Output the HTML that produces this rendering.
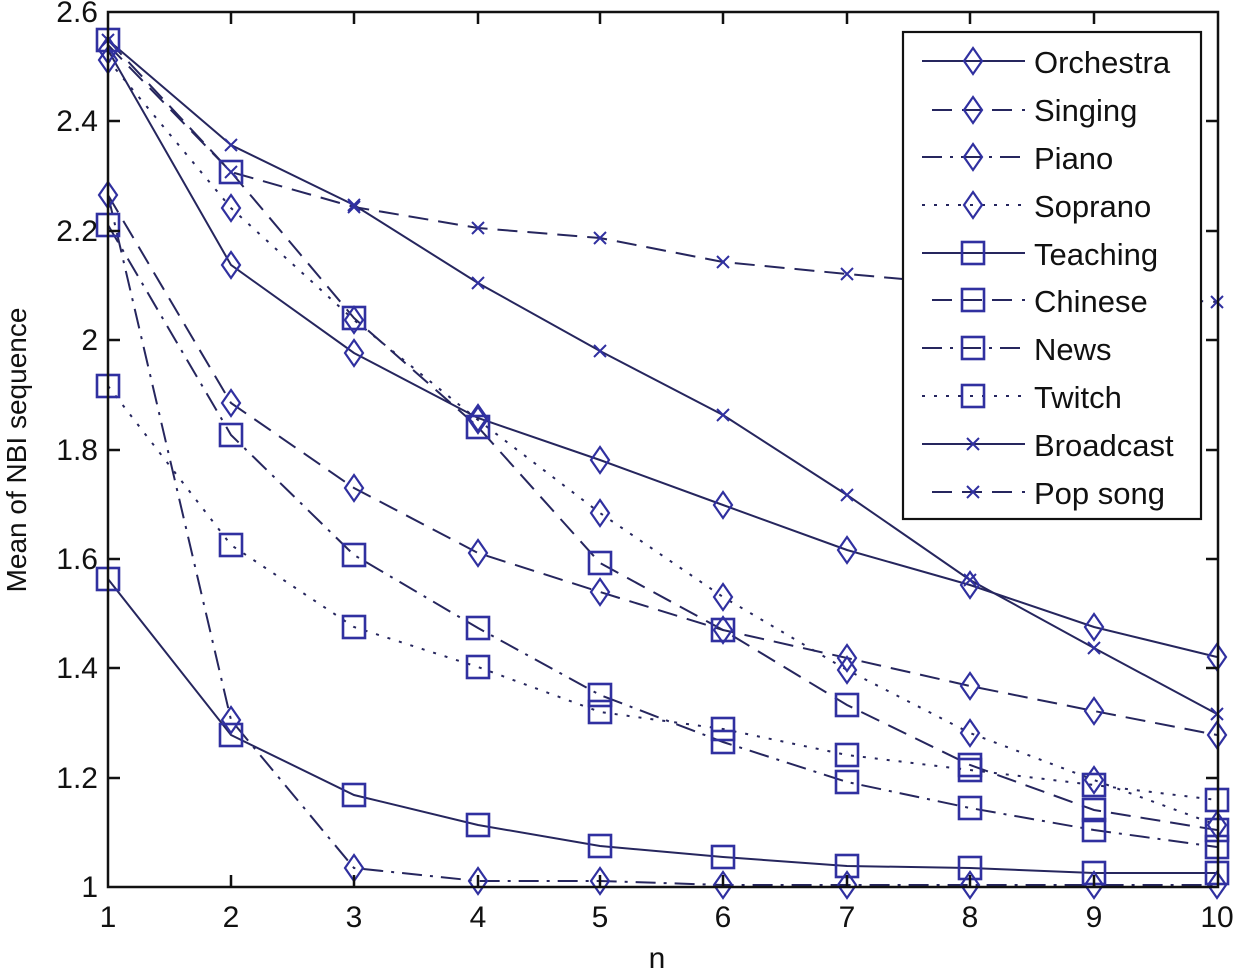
<!DOCTYPE html>
<html><head><meta charset="utf-8"><style>
html,body{margin:0;padding:0;background:#fff;width:1234px;height:971px;overflow:hidden}
svg{display:block}
text{font-family:"Liberation Sans",sans-serif;fill:#111}
</style></head><body>
<svg width="1234" height="971" viewBox="0 0 1234 971" xmlns="http://www.w3.org/2000/svg">
<defs>
<g id="dm"><path d="M0,-13 L9,0 L0,13 L-9,0 Z" fill="none" stroke="#3030a0" stroke-width="2.2"/></g>
<g id="sq"><rect x="-11" y="-11" width="22" height="22" fill="none" stroke="#3030a0" stroke-width="2.6"/></g>
<g id="xx"><path d="M-6,-6 L6,6 M-6,6 L6,-6" stroke="#3030a0" stroke-width="2"/></g>
</defs>
<g fill="none" stroke="#26265e" stroke-width="2">
<polyline points="108,40 231,145 354,205 478,283 600,351 723,415 847,495 970,580 1094,648 1217,714"/>
<polyline stroke-dasharray="20,10" points="108,45 231,172 354,207 478,228 600,238 723,262 847,274 970,285 1094,295 1217,302"/>
<polyline points="108,50 231,265 354,353 478,418 600,460 723,505 847,550 970,585 1094,627 1217,657"/>
<polyline points="108,579 231,735 354,795 478,825 600,846 723,857 847,866 970,868 1094,873 1217,873"/>
<polyline stroke-dasharray="20,8,3,8" points="108,195 231,720 354,868 478,881 600,881 723,885 847,885 970,885 1094,885 1217,885"/>
<polyline stroke-dasharray="3,9" points="108,60 231,208 354,320 478,420 600,513 723,597 847,670 970,733 1094,780 1217,825"/>
<polyline stroke-dasharray="20,10" points="108,195 231,403 354,488 478,553 600,592 723,630 847,658 970,686 1094,711 1217,735"/>
<polyline stroke-dasharray="20,10" points="108,40 231,172 354,318 478,427 600,563 723,630 847,705 970,765 1094,810 1217,830"/>
<polyline stroke-dasharray="20,8,3,8" points="108,225 231,435 354,555 478,628 600,695 723,742 847,782 970,808 1094,830 1217,847"/>
<polyline stroke-dasharray="3,9" points="108,386 231,545 354,627 478,667 600,712 723,729 847,755 970,770 1094,785 1217,800"/>
</g>
<g>
<use href="#xx" x="108" y="40"/><use href="#xx" x="231" y="145"/><use href="#xx" x="354" y="205"/><use href="#xx" x="478" y="283"/><use href="#xx" x="600" y="351"/><use href="#xx" x="723" y="415"/><use href="#xx" x="847" y="495"/><use href="#xx" x="970" y="580"/><use href="#xx" x="1094" y="648"/><use href="#xx" x="1217" y="714"/>
<use href="#xx" x="231" y="172"/><use href="#xx" x="354" y="207"/><use href="#xx" x="478" y="228"/><use href="#xx" x="600" y="238"/><use href="#xx" x="723" y="262"/><use href="#xx" x="847" y="274"/><use href="#xx" x="1217" y="302"/>
<use href="#dm" x="108" y="50"/><use href="#dm" x="231" y="265"/><use href="#dm" x="354" y="353"/><use href="#dm" x="478" y="418"/><use href="#dm" x="600" y="460"/><use href="#dm" x="723" y="505"/><use href="#dm" x="847" y="550"/><use href="#dm" x="970" y="585"/><use href="#dm" x="1094" y="627"/><use href="#dm" x="1217" y="657"/>
<use href="#sq" x="108" y="579"/><use href="#sq" x="231" y="735"/><use href="#sq" x="354" y="795"/><use href="#sq" x="478" y="825"/><use href="#sq" x="600" y="846"/><use href="#sq" x="723" y="857"/><use href="#sq" x="847" y="866"/><use href="#sq" x="970" y="868"/><use href="#sq" x="1094" y="873"/><use href="#sq" x="1217" y="873"/>
<use href="#dm" x="108" y="195"/><use href="#dm" x="231" y="720"/><use href="#dm" x="354" y="868"/><use href="#dm" x="478" y="881"/><use href="#dm" x="600" y="881"/><use href="#dm" x="723" y="885"/><use href="#dm" x="847" y="885"/><use href="#dm" x="970" y="885"/><use href="#dm" x="1094" y="885"/><use href="#dm" x="1217" y="885"/>
<use href="#dm" x="108" y="60"/><use href="#dm" x="231" y="208"/><use href="#dm" x="354" y="320"/><use href="#dm" x="478" y="420"/><use href="#dm" x="600" y="513"/><use href="#dm" x="723" y="597"/><use href="#dm" x="847" y="670"/><use href="#dm" x="970" y="733"/><use href="#dm" x="1094" y="780"/><use href="#dm" x="1217" y="825"/>
<use href="#dm" x="231" y="403"/><use href="#dm" x="354" y="488"/><use href="#dm" x="478" y="553"/><use href="#dm" x="600" y="592"/><use href="#dm" x="723" y="630"/><use href="#dm" x="847" y="658"/><use href="#dm" x="970" y="686"/><use href="#dm" x="1094" y="711"/><use href="#dm" x="1217" y="735"/>
<use href="#sq" x="108" y="40"/><use href="#sq" x="231" y="172"/><use href="#sq" x="354" y="318"/><use href="#sq" x="478" y="427"/><use href="#sq" x="600" y="563"/><use href="#sq" x="723" y="630"/><use href="#sq" x="847" y="705"/><use href="#sq" x="970" y="765"/><use href="#sq" x="1094" y="810"/><use href="#sq" x="1217" y="830"/>
<use href="#sq" x="108" y="225"/><use href="#sq" x="231" y="435"/><use href="#sq" x="354" y="555"/><use href="#sq" x="478" y="628"/><use href="#sq" x="600" y="695"/><use href="#sq" x="723" y="742"/><use href="#sq" x="847" y="782"/><use href="#sq" x="970" y="808"/><use href="#sq" x="1094" y="830"/><use href="#sq" x="1217" y="847"/>
<use href="#sq" x="108" y="386"/><use href="#sq" x="231" y="545"/><use href="#sq" x="354" y="627"/><use href="#sq" x="478" y="667"/><use href="#sq" x="600" y="712"/><use href="#sq" x="723" y="729"/><use href="#sq" x="847" y="755"/><use href="#sq" x="970" y="770"/><use href="#sq" x="1094" y="785"/><use href="#sq" x="1217" y="800"/>
</g>
<rect x="108" y="12" width="1110" height="875" fill="none" stroke="#111" stroke-width="2.5"/>
<g stroke="#111" stroke-width="2.5">
<path d="M231,887v-12M354,887v-12M478,887v-12M600,887v-12M723,887v-12M847,887v-12M970,887v-12M1094,887v-12
M231,12v12M354,12v12M478,12v12M600,12v12M723,12v12M847,12v12M970,12v12M1094,12v12
M108,778h12M108,668h12M108,559h12M108,450h12M108,340h12M108,231h12M108,121h12
M1218,778h-12M1218,668h-12M1218,559h-12M1218,450h-12M1218,340h-12M1218,231h-12M1218,121h-12"/>
</g>
<g font-size="30" text-anchor="end">
<text x="98" y="897">1</text><text x="98" y="788">1.2</text><text x="98" y="678">1.4</text><text x="98" y="569">1.6</text><text x="98" y="460">1.8</text><text x="98" y="350">2</text><text x="98" y="241">2.2</text><text x="98" y="131">2.4</text><text x="98" y="22">2.6</text>
</g>
<g font-size="30" text-anchor="middle">
<text x="108" y="927">1</text><text x="231" y="927">2</text><text x="354" y="927">3</text><text x="478" y="927">4</text><text x="600" y="927">5</text><text x="723" y="927">6</text><text x="847" y="927">7</text><text x="970" y="927">8</text><text x="1094" y="927">9</text><text x="1217" y="927">10</text>
<text x="657" y="968">n</text>
<text transform="translate(26,450) rotate(-90)" font-size="28">Mean of NBI sequence</text>
</g>
<rect x="903" y="32" width="298" height="487" fill="#fff" stroke="#111" stroke-width="2.2"/>
<g fill="none" stroke="#26265e" stroke-width="2">
<path d="M922,61h103"/>
<path d="M932,110h93" stroke-dasharray="20,10"/>
<path d="M922,157h103" stroke-dasharray="20,8,3,8"/>
<path d="M922,205h103" stroke-dasharray="3,9"/>
<path d="M922,253h103"/>
<path d="M932,300h93" stroke-dasharray="20,10"/>
<path d="M922,348h103" stroke-dasharray="20,8,3,8"/>
<path d="M922,396h103" stroke-dasharray="3,9"/>
<path d="M922,444h103"/>
<path d="M932,492h93" stroke-dasharray="20,10"/>
</g>
<use href="#dm" x="973" y="61"/><use href="#dm" x="973" y="110"/><use href="#dm" x="973" y="157"/><use href="#dm" x="973" y="205"/>
<use href="#sq" x="973" y="253"/><use href="#sq" x="973" y="300"/><use href="#sq" x="973" y="348"/><use href="#sq" x="973" y="396"/>
<use href="#xx" x="973" y="444"/><use href="#xx" x="973" y="492"/>
<g font-size="31">
<text x="1034" y="73">Orchestra</text><text x="1034" y="121">Singing</text><text x="1034" y="169">Piano</text><text x="1034" y="217">Soprano</text><text x="1034" y="265">Teaching</text><text x="1034" y="312">Chinese</text><text x="1034" y="360">News</text><text x="1034" y="408">Twitch</text><text x="1034" y="456">Broadcast</text><text x="1034" y="504">Pop song</text>
</g>
</svg>
</body></html>
